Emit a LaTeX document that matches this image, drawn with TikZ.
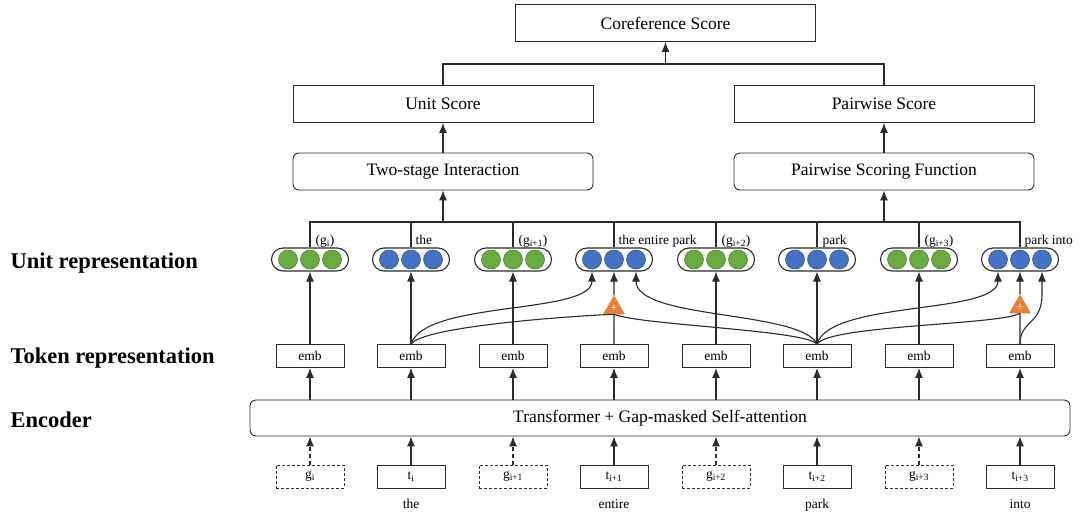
\documentclass[tikz,border=0pt]{standalone}
\usepackage{fontspec}
\setmainfont{Liberation Serif}
\usetikzlibrary{shapes.geometric, arrows.meta}

\definecolor{unitgreen}{HTML}{6AAB3F}
\definecolor{unitblue}{HTML}{4472C4}
\definecolor{plusorange}{HTML}{ED7D31}
\definecolor{linegray}{HTML}{2B2B2B}

\tikzset{
    arr/.style={-{Latex[length=10pt, width=8pt]}},
    scorebox/.style={rectangle, draw=linegray, line width=0.9pt, minimum width=300, minimum height=37, inner sep=0, font=\fontsize{17.5}{20}\selectfont},
    funcbox/.style={scorebox, rounded corners=6},
    pill/.style={rectangle, draw=linegray, rounded corners=11.5, minimum width=77, minimum height=23, inner sep=0},
    gdot/.style={circle, fill=unitgreen, draw=unitgreen!75!black, line width=0.6pt, minimum size=19, inner sep=0},
    bdot/.style={circle, fill=unitblue, draw=unitblue!75!black, line width=0.6pt, minimum size=19, inner sep=0},
    embbox/.style={rectangle, draw=linegray, line width=0.9pt, minimum width=68, minimum height=23, inner sep=0, font=\fontsize{13.5}{15}\selectfont},
    gapbox/.style={embbox, dash pattern=on 3pt off 2pt},
    plus/.style={regular polygon, regular polygon sides=3, fill=plusorange, draw=plusorange, minimum size=23, inner sep=0, text=white, font=\bfseries\fontsize{11}{11}\selectfont},
    side/.style={anchor=base west, inner sep=0, font=\bfseries\fontsize{22.5}{24}\selectfont},
    word/.style={inner sep=0, font=\fontsize{13.5}{15}\selectfont},
}

\begin{document}
\begin{tikzpicture}[x=1pt, y=-1pt, line width=1.1pt, draw=linegray]
    \useasboundingbox (0,0) rectangle (1082,515);

    % scores
    \node[scorebox] (cs) at (665.5,23) {Coreference Score};
    \node[scorebox] (us) at (443,104) {Unit Score};
    \node[scorebox] (ps) at (884,104) {Pairwise Score};
    \node[funcbox] (ts) at (443,171.5) {Two-stage Interaction};
    \node[funcbox] (pf) at (884,171.5) {Pairwise Scoring Function};
    \coordinate (topbus) at (0,64);
    \coordinate (bus) at (0,222);

    \draw (us.north) |- (ps.north |- topbus) -- (ps.north);
    \draw[arr] (cs.south |- topbus) -- (cs.south);
    \draw[arr] (ts.north) -- (us.south);
    \draw[arr] (pf.north) -- (ps.south);
    \draw[arr] (ts.south |- bus) -- (ts.south);
    \draw[arr] (pf.south |- bus) -- (pf.south);

    % side labels
    \node[side] (lunit) at (10,268) {Unit representation};
    \node[side] (ltok) at (10,363) {Token representation};
    \node[side] (lenc) at (10,427) {Encoder};

    % unit representation
    \node[pill] (u1) at (310,259.5) {};
    \node[gdot] (u1a) at (288,259.5) {}; \node[gdot] (u1b) at (310,259.5) {}; \node[gdot] (u1c) at (332,259.5) {};
    \node[pill] (u2) at (411,259.5) {};
    \node[bdot] (u2a) at (389,259.5) {}; \node[bdot] (u2b) at (411,259.5) {}; \node[bdot] (u2c) at (433,259.5) {};
    \node[pill] (u3) at (513,259.5) {};
    \node[gdot] (u3a) at (491,259.5) {}; \node[gdot] (u3b) at (513,259.5) {}; \node[gdot] (u3c) at (535,259.5) {};
    \node[pill] (u4) at (614,259.5) {};
    \node[bdot] (u4a) at (592,259.5) {}; \node[bdot] (u4b) at (614,259.5) {}; \node[bdot] (u4c) at (636,259.5) {};
    \node[pill] (u5) at (716,259.5) {};
    \node[gdot] (u5a) at (694,259.5) {}; \node[gdot] (u5b) at (716,259.5) {}; \node[gdot] (u5c) at (738,259.5) {};
    \node[pill] (u6) at (817,259.5) {};
    \node[bdot] (u6a) at (795,259.5) {}; \node[bdot] (u6b) at (817,259.5) {}; \node[bdot] (u6c) at (839,259.5) {};
    \node[pill] (u7) at (919,259.5) {};
    \node[gdot] (u7a) at (897,259.5) {}; \node[gdot] (u7b) at (919,259.5) {}; \node[gdot] (u7c) at (941,259.5) {};
    \node[pill] (u8) at (1020,259.5) {};
    \node[bdot] (u8a) at (998,259.5) {}; \node[bdot] (u8b) at (1020,259.5) {}; \node[bdot] (u8c) at (1042,259.5) {};

    \draw (u1.north) |- (u8.north |- bus) -- (u8.north);
    \draw (u2.north) -- (u2.north |- bus);
    \draw (u3.north) -- (u3.north |- bus);
    \draw (u4.north) -- (u4.north |- bus);
    \draw (u5.north) -- (u5.north |- bus);
    \draw (u6.north) -- (u6.north |- bus);
    \draw (u7.north) -- (u7.north |- bus);

    \node[word, anchor=base west] (l1) at (315,244) {(g\textsubscript{i})};
    \node[word, anchor=base west] (l2) at (415,244) {the};
    \node[word, anchor=base west] (l3) at (518,244) {(g\textsubscript{i+1})};
    \node[word, anchor=base west] (l4) at (618,244) {the entire park};
    \node[word, anchor=base west] (l5) at (721,244) {(g\textsubscript{i+2})};
    \node[word, anchor=base west] (l6) at (822,244) {park};
    \node[word, anchor=base west] (l7) at (924,244) {(g\textsubscript{i+3})};
    \node[word, anchor=base west] (l8) at (1024,244) {park into};

    % token representation
    \node[embbox] (e1) at (310,356) {emb};
    \node[embbox] (e2) at (411,356) {emb};
    \node[embbox] (e3) at (513,356) {emb};
    \node[embbox] (e4) at (614,356) {emb};
    \node[embbox] (e5) at (716,356) {emb};
    \node[embbox] (e6) at (817,356) {emb};
    \node[embbox] (e7) at (919,356) {emb};
    \node[embbox] (e8) at (1020,356) {emb};

    \node[plus] (tri1) at (614,308) {+};
    \node[plus] (tri2) at (1020,307) {+};

    \draw[arr] (e1.north) -- (u1.south);
    \draw[arr] (e2.north) -- (u2.south);
    \draw[arr] (e3.north) -- (u3.south);
    \draw (e4.north) -- (tri1.south);
    \draw[arr] (tri1.north) -- (u4b |- u4.south);
    \draw[arr] (e5.north) -- (u5.south);
    \draw[arr] (e6.north) -- (u6.south);
    \draw[arr] (e7.north) -- (u7.south);
    \draw (e8.north) -- (tri2.south);
    \draw[arr] (tri2.north) -- (u8b |- u8.south);

    \draw[arr] (e2.north) .. controls (425,300) and (592,315) .. (u4a |- u4.south);
    \draw (e2.north) .. controls (425,325) and (590,315) .. (tri1.south);
    \draw[arr] (e6.north) .. controls (800,310) and (636,320) .. (u4c |- u4.south);
    \draw (e6.north) .. controls (805,330) and (640,325) .. (tri1.south);
    \draw (e6.north) .. controls (830,325) and (1000,325) .. (tri2.south);
    \draw[arr] (e6.north) .. controls (830,300) and (998,315) .. (u8a |- u8.south);
    \draw[arr] (e8.north) .. controls (1020,320) and (1042,325) .. (u8c |- tri2.north) -- (u8c |- u8.south);

    % encoder
    \node[funcbox, minimum width=820, minimum height=36] (enc) at (660,418) {Transformer + Gap-masked Self-attention};

    \draw[arr] (e1 |- enc.north) -- (e1.south);
    \draw[arr] (e2 |- enc.north) -- (e2.south);
    \draw[arr] (e3 |- enc.north) -- (e3.south);
    \draw[arr] (e4 |- enc.north) -- (e4.south);
    \draw[arr] (e5 |- enc.north) -- (e5.south);
    \draw[arr] (e6 |- enc.north) -- (e6.south);
    \draw[arr] (e7 |- enc.north) -- (e7.south);
    \draw[arr] (e8 |- enc.north) -- (e8.south);

    % inputs
    \node[gapbox] (t1) at (310,476.5) {g\textsubscript{i}};
    \node[embbox] (t2) at (411,476.5) {t\textsubscript{i}};
    \node[gapbox] (t3) at (513,476.5) {g\textsubscript{i+1}};
    \node[embbox] (t4) at (614,476.5) {t\textsubscript{i+1}};
    \node[gapbox] (t5) at (716,476.5) {g\textsubscript{i+2}};
    \node[embbox] (t6) at (817,476.5) {t\textsubscript{i+2}};
    \node[gapbox] (t7) at (919,476.5) {g\textsubscript{i+3}};
    \node[embbox] (t8) at (1020,476.5) {t\textsubscript{i+3}};

    \draw[arr, dash pattern=on 4pt off 3pt] (t1.north) -- (t1 |- enc.south);
    \draw[arr] (t2.north) -- (t2 |- enc.south);
    \draw[arr, dash pattern=on 4pt off 3pt] (t3.north) -- (t3 |- enc.south);
    \draw[arr] (t4.north) -- (t4 |- enc.south);
    \draw[arr, dash pattern=on 4pt off 3pt] (t5.north) -- (t5 |- enc.south);
    \draw[arr] (t6.north) -- (t6 |- enc.south);
    \draw[arr, dash pattern=on 4pt off 3pt] (t7.north) -- (t7 |- enc.south);
    \draw[arr] (t8.north) -- (t8 |- enc.south);

    \node[word, anchor=base] (w2) at (411,508) {the};
    \node[word, anchor=base] (w4) at (614,508) {entire};
    \node[word, anchor=base] (w6) at (817,508) {park};
    \node[word, anchor=base] (w8) at (1020,508) {into};
\end{tikzpicture}
\end{document}
